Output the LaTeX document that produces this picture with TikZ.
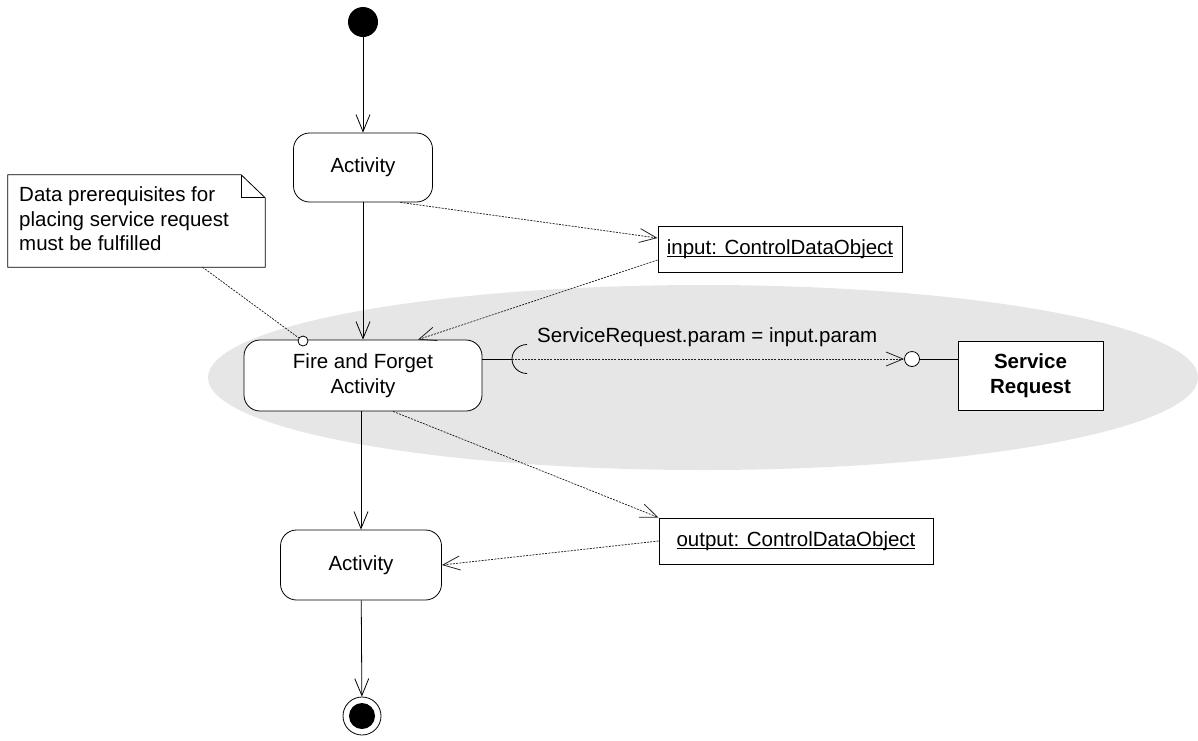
\documentclass[tikz,border=0pt]{standalone}
\usepackage{fontspec}
\setmainfont{Liberation Sans}
\usetikzlibrary{arrows.meta,calc}
\definecolor{region}{HTML}{E6E6E6}
\definecolor{dep}{HTML}{222222}
% object names: underline drawn just below the baseline
\newcommand\objlabel[1]{\setbox0\hbox{#1}\rlap{\usebox0}\rule[-2.4pt]{\wd0}{0.9pt}}
\tikzset{
  txt/.style={font=\fontsize{20.5}{24.5}\selectfont},
  activity/.style={txt, draw, fill=white, rounded corners=16pt, line width=0.8pt, align=center, inner sep=0pt},
  objbox/.style={txt, draw, fill=white, line width=1pt, align=center, inner sep=0pt},
  flow/.style={line width=0.8pt, -{Straight Barb[length=17pt,width=14pt,line width=0.8pt]}},
  depend/.style={dep, line width=0.75pt, dash pattern=on 2pt off 1.2pt, -{Straight Barb[length=17pt,width=14pt,line width=0.8pt]}},
  anchorline/.style={dep, line width=0.75pt, dash pattern=on 2pt off 1.2pt},
}
\begin{document}
\begin{tikzpicture}[x=1pt,y=-1pt]
\useasboundingbox (0,0) rectangle (1198,740);

% shaded interaction region
\begin{scope}
  \clip (0,0) rectangle (1198,740);
  \fill[region] (703,377.5) ellipse[x radius=495pt, y radius=92.5pt];
\end{scope}

% initial and final nodes
\node[circle, fill, minimum size=30pt, inner sep=0pt] (start) at (363,22) {};
\node[circle, draw, line width=0.8pt, minimum size=38pt, inner sep=0pt] (final) at (362,716) {};
\node[circle, fill, minimum size=26pt, inner sep=0pt] (finaldot) at (final) {};

% activities
\node[activity, minimum width=139pt, minimum height=69pt] (act1) at (363,167.5) {Activity};
\node[activity, minimum width=238pt, minimum height=71pt] (ff) at (363,375.5) {Fire and Forget\\Activity};
\node[activity, minimum width=161pt, minimum height=70pt] (act2) at (361,565) {Activity};

% objects
\node[objbox, minimum width=244pt, minimum height=46pt] (inobj) at (780,249) {\objlabel{input: ControlDataObject}};
\node[objbox, minimum width=274pt, minimum height=46pt] (outobj) at (796,541) {\objlabel{output: ControlDataObject}};
\node[objbox, minimum width=145pt, minimum height=69pt, font=\fontsize{20.5}{25}\selectfont\bfseries] (sreq) at (1030.5,375.5) {Service\\Request};

% note
\node[minimum width=257pt, minimum height=92pt, inner sep=0pt] (note) at (136.5,221) {};
\draw[line width=0.8pt, fill=white] (note.north west) -- ([xshift=-24pt]note.north east) -- ([yshift=-23pt]note.north east) -- (note.south east) -- (note.south west) -- cycle;
\draw[line width=0.8pt] ([xshift=-24pt]note.north east) -- ([xshift=-24pt,yshift=-23pt]note.north east) -- ([yshift=-23pt]note.north east);
\node[txt, align=left, anchor=west, inner sep=0pt] (notetext) at (19,219) {Data prerequisites for\\placing service request\\must be fulfilled};
\node[circle, draw, fill=white, line width=0.8pt, minimum size=10pt, inner sep=0pt] (pin) at (303,341) {};
\draw[anchorline] ([xshift=66pt]note.south) -- (pin);

% control flow
\draw[flow] (start) -- (act1);
\draw[flow] (act1) -- (act1 |- ff.north);
\draw[flow] (ff.south -| act2) -- (act2);
\draw[flow] (act2) -- (final);

% object flow
\draw[depend] (act1.-43) -- ([yshift=11pt]inobj.west);
\draw[depend] ([yshift=-11pt]inobj.west) -- ([xshift=55pt]ff.north);
\draw[depend] (ff.-50) -- (outobj.north west);
\draw[depend] (outobj.west) -- (act2.east);

% service request interface
\coordinate (sock) at (512,359);
\node[circle, draw, fill=white, line width=0.8pt, minimum size=15pt, inner sep=0pt] (lol) at (912,359) {};
\draw[line width=0.8pt] (ff.east |- sock) -- (sock);
\draw[line width=0.8pt] (sock) ++(15,-14.5) arc[start angle=90, end angle=270, x radius=15pt, y radius=14.5pt];
\draw[depend] (sock) -- (lol.west);
\draw[line width=1pt] (lol.east) -- (sreq.west |- lol);
\node[txt, anchor=base west, inner sep=0pt] (lbl) at (537,342) {ServiceRequest.param = input.param};
\end{tikzpicture}
\end{document}
